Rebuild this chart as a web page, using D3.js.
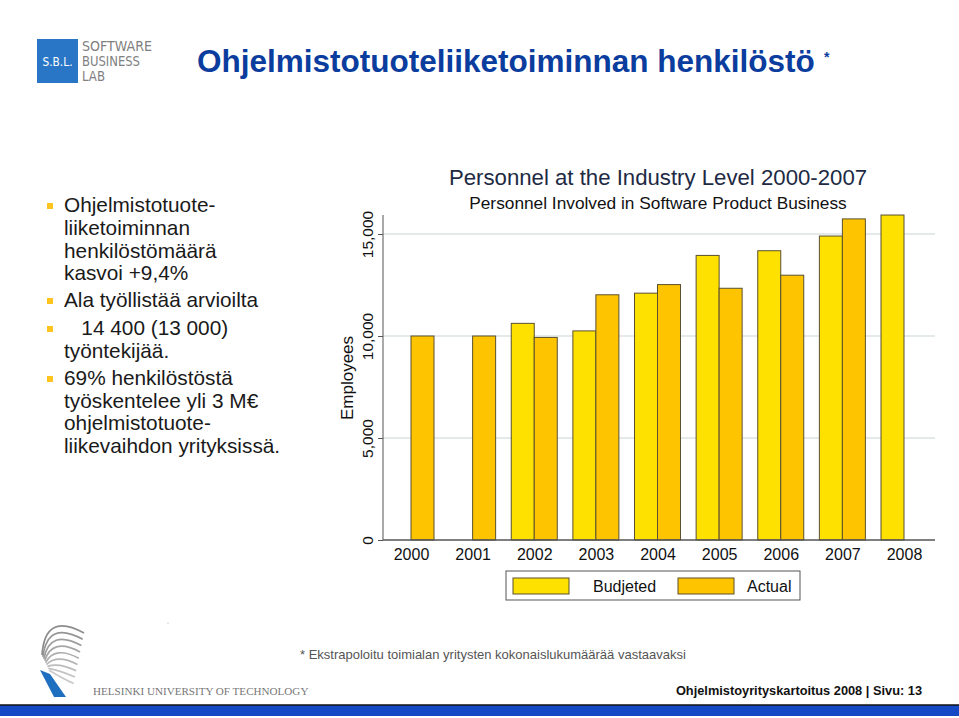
<!DOCTYPE html>
<html><head><meta charset="utf-8">
<script src="https://cdn.jsdelivr.net/npm/d3@7"></script>
<style>
html,body{margin:0;padding:0;background:#fff;}
svg{display:block;font-family:"Liberation Sans",Arial,sans-serif;}
</style></head>
<body>
<svg id="c" width="959" height="718"></svg>
<script>
const years = ["2000","2001","2002","2003","2004","2005","2006","2007","2008"];
const budgeted = [null, null, 10620, 10250, 12100, 13950, 14180, 14900, 15930];
const actual = [10000, 10000, 9930, 12020, 12520, 12340, 12980, 15740, null];
const yTicks = [0, 5000, 10000, 15000];
const seriesNames = ["Budjeted", "Actual"];
const seriesColors = ["#FFE100", "#FFC400"];
const bullets = [
  {b:true, t:"Ohjelmistotuote-"},
  {b:false, t:"liiketoiminnan"},
  {b:false, t:"henkilöstömäärä"},
  {b:false, t:"kasvoi +9,4%"},
  {b:true, t:"Ala työllistää arvioilta"},
  {b:true, t:"\u00a0\u00a0\u00a014 400 (13 000)"},
  {b:false, t:"työntekijää."},
  {b:true, t:"69% henkilöstöstä"},
  {b:false, t:"työskentelee yli 3 M€"},
  {b:false, t:"ohjelmistotuote-"},
  {b:false, t:"liikevaihdon yrityksissä."}
];
const bulletY = [212, 235, 258, 280, 307, 335, 358, 385, 408, 430, 453];

const svg = d3.select("#c");

// SBL logo
svg.append("rect").attr("x",37).attr("y",39).attr("width",41).attr("height",44).attr("fill","#2A76C6");
svg.append("text").attr("x",57.5).attr("y",66).attr("text-anchor","middle").attr("fill","#fff")
  .attr("font-size",12).attr("textLength",30).attr("lengthAdjust","spacingAndGlyphs")
  .attr("font-family","'Liberation Sans Narrow','DejaVu Sans Condensed',sans-serif").text("S.B.L.");
const sblLines = ["SOFTWARE","BUSINESS","LAB"];
const sblLen = [70, 58, 23];
sblLines.forEach((t,i)=>{
  svg.append("text").attr("x",82).attr("y",51+i*15).attr("fill","#808080")
    .attr("font-size",14.5).attr("font-family","'Liberation Sans Narrow','DejaVu Sans Condensed',sans-serif")
    .attr("textLength", sblLen[i]).attr("lengthAdjust","spacingAndGlyphs").text(t);
});

// Main title
svg.append("text").attr("x",197).attr("y",72).attr("fill","#0B3D9E").attr("font-weight","bold")
  .attr("font-size",31.5).text("Ohjelmistotuoteliiketoiminnan henkilöstö");
svg.append("text").attr("x",824).attr("y",62).attr("fill","#0B3D9E").attr("font-weight","bold")
  .attr("font-size",14).text("*");

// Bullets
bullets.forEach((d,i)=>{
  if(d.b) svg.append("rect").attr("x",47).attr("y",bulletY[i]-9).attr("width",6).attr("height",6).attr("fill","#FFC51E");
  svg.append("text").attr("x",64).attr("y",bulletY[i]).attr("font-size",20.8).attr("fill","#1a1a1a")
    .attr("xml:space","preserve").text(d.t);
});

// Chart
const x = d3.scalePoint().domain(years).range([411, 904]);
const xs = d3.scaleBand().domain(seriesNames).range([-23, 23]);
const y = d3.scaleLinear().domain([0, 15000]).range([540, 234]);

const g = svg.append("g");
g.selectAll("line.grid").data(yTicks.filter(v=>v>0)).join("line")
  .attr("x1",383).attr("x2",935).attr("y1",d=>y(d)).attr("y2",d=>y(d))
  .attr("stroke","#e4eaea").attr("stroke-width",2);

const yAxis = d3.axisLeft(y).tickValues(yTicks).tickSize(5).tickFormat(d3.format(","));
const ya = g.append("g").attr("transform","translate(383,0)").call(yAxis);
ya.select(".domain").attr("d","M0,215V540").attr("stroke","#555");
ya.selectAll(".tick line").attr("stroke","#555");
ya.selectAll(".tick text").attr("font-size",15.5).attr("fill","#111")
  .attr("font-family","'Liberation Sans',Arial,sans-serif")
  .attr("transform","rotate(-90)").attr("x",0).attr("y",-10).attr("dy",0).attr("text-anchor","middle");

const data = [];
years.forEach((yr,i)=>{
  if(budgeted[i]!=null) data.push({yr, s:"Budjeted", v:budgeted[i], c:seriesColors[0]});
  if(actual[i]!=null) data.push({yr, s:"Actual", v:actual[i], c:seriesColors[1]});
});
g.selectAll("rect.bar").data(data).join("rect")
  .attr("x",d=>x(d.yr)+xs(d.s)).attr("width",xs.bandwidth())
  .attr("y",d=>y(d.v)).attr("height",d=>y(0)-y(d.v))
  .attr("fill",d=>d.c).attr("stroke","#5a5030").attr("stroke-width",1);

const xAxis = d3.axisBottom(x).tickSize(0).tickPadding(9);
const xa = g.append("g").attr("transform","translate(0,540)").call(xAxis);
xa.select(".domain").attr("d","M383,0H935").attr("stroke","#555").attr("stroke-width",1.5);
xa.selectAll(".tick text").attr("font-size",16).attr("fill","#111")
  .attr("font-family","'Liberation Sans',Arial,sans-serif");

svg.append("text").attr("transform","translate(353,378) rotate(-90)").attr("text-anchor","middle")
  .attr("font-size",17).attr("fill","#111").text("Employees");

svg.append("text").attr("x",658).attr("y",185).attr("text-anchor","middle").attr("font-size",22.2)
  .attr("fill","#1E2A44").text("Personnel at the Industry Level 2000-2007");
svg.append("text").attr("x",658).attr("y",209).attr("text-anchor","middle").attr("font-size",17.3)
  .attr("fill","#111").text("Personnel Involved in Software Product Business");

// legend
const lg = svg.append("g");
lg.append("rect").attr("x",506).attr("y",571).attr("width",294).attr("height",29).attr("fill","#fff").attr("stroke","#555");
const legX = [513, 678];
const legTX = [593, 747];
seriesNames.forEach((s,i)=>{
  lg.append("rect").attr("x",legX[i]).attr("y",578).attr("width",56).attr("height",16)
    .attr("fill",seriesColors[i]).attr("stroke","#5a5030");
  lg.append("text").attr("x",legTX[i]).attr("y",592).attr("font-size",16).attr("fill","#111").text(s);
});

// footnote
svg.append("text").attr("x",300).attr("y",659).attr("font-size",13).attr("fill","#555")
  .text("* Ekstrapoloitu toimialan yritysten kokonaislukumäärää vastaavaksi");
svg.append("circle").attr("cx",168).attr("cy",623).attr("r",0.6).attr("fill","#aaa");

// HUT logo
const logo = svg.append("g");
const grays = ["#8c8c8c","#959595","#9e9e9e","#a6a6a6","#aeaeae","#b5b5b5","#bcbcbc","#c3c3c3","#cacaca"];
for(let i=0;i<9;i++){
  const x0 = 42 + i*0.9, y0 = 655 + i*1.9;
  const x1 = 84 - i*1.3, y1 = 633 + i*6.3;
  const cx = x0 + 3 + i*1.5, cy = y1 - 4 - (8 - i)*2.2;
  logo.append("path")
    .attr("d",`M${x0},${y0} Q${cx},${cy} ${x1},${y1}`)
    .attr("fill","none").attr("stroke",grays[i]).attr("stroke-width",1.7);
}
logo.append("path").attr("d","M40,670 L50,674 L66,697 L54,697 Z").attr("fill","#1F6FC0");
svg.append("text").attr("x",93).attr("y",695).attr("font-size",11.1).attr("fill","#777")
  .attr("font-family","'Liberation Serif','DejaVu Serif',serif").text("HELSINKI UNIVERSITY OF TECHNOLOGY");

svg.append("text").attr("x",922).attr("y",695).attr("text-anchor","end").attr("font-size",12.8)
  .attr("font-weight","bold").attr("fill","#111").text("Ohjelmistoyrityskartoitus 2008 | Sivu: 13");

// bottom bar
svg.append("rect").attr("x",0).attr("y",705).attr("width",959).attr("height",11).attr("fill","#1548C4");
svg.append("line").attr("x1",0).attr("x2",959).attr("y1",705).attr("y2",705).attr("stroke","#111").attr("stroke-width",1.5);
</script>
</body></html>
